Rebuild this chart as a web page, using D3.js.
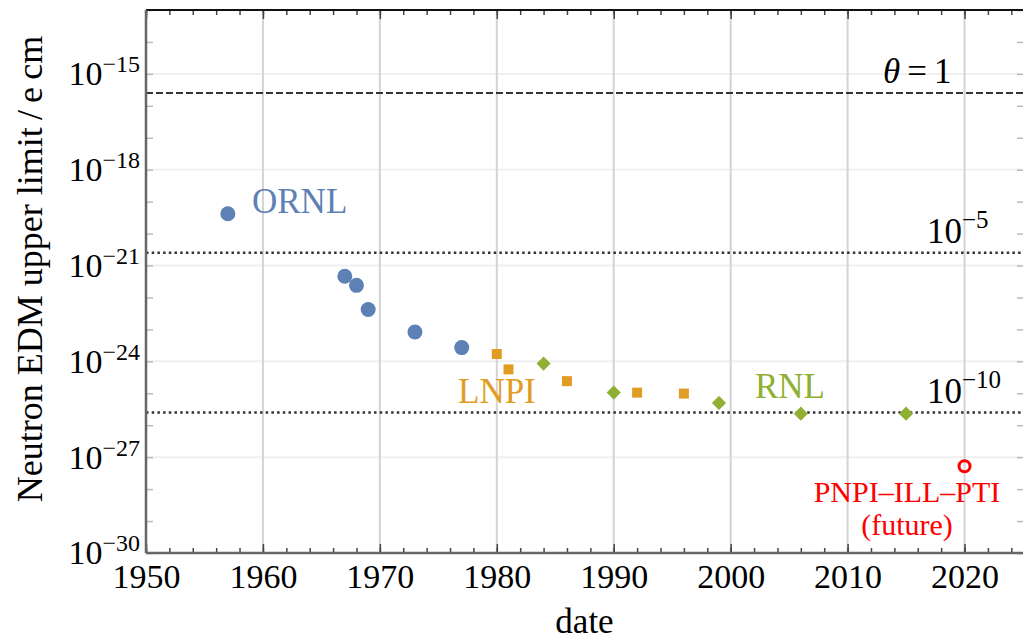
<!DOCTYPE html>
<html>
<head>
<meta charset="utf-8">
<script src="https://cdn.jsdelivr.net/npm/d3@7"></script>
<style>
    body { margin: 0; background: #fff; }
    svg { display: block; font-family: "Liberation Serif", "Times New Roman", serif; }
</style>
</head>
<body>
<div id="chart"></div>
<script>
const WIDTH = 1023, HEIGHT = 641;
const PLOT = { left: 146, right: 1023, top: 10, bottom: 553 };

const ornlYears = [1957, 1967, 1968, 1969, 1973, 1977];
const ornlLimits = [4.2e-20, 4.6e-22, 2.4e-22, 4.2e-23, 8.3e-24, 2.7e-24];
const lnpiYears = [1980, 1981, 1986, 1992, 1996];
const lnpiLimits = [1.7e-24, 5.6e-25, 2.4e-25, 1.05e-25, 9.8e-26];
const rnlYears = [1984, 1990, 1999, 2006, 2015];
const rnlLimits = [8.5e-25, 1.05e-25, 5.0e-26, 2.3e-26, 2.3e-26];
const futureYears = [2020];
const futureLimits = [5.2e-28];

// Reference levels for theta = 1, 1e-5, 1e-10.
const refLimits = [2.5e-16, 2.5e-21, 2.5e-26];
const refBases = ["θ", "10", "10"];
const refExponents = ["", "−5", "−10"];

const xTickYears = [1950, 1960, 1970, 1980, 1990, 2000, 2010, 2020];
const yTickExponents = [-15, -18, -21, -24, -27, -30];

const COLORS = { ornl: "#5e81b5", lnpi: "#e19c24", rnl: "#8fb032", future: "#ff0000" };

const zip = (xs, ys) => xs.map((d, i) => ({ year: d, limit: ys[i] }));

const svg = d3.select("#chart")
    .append("svg")
    .attr("width", WIDTH)
    .attr("height", HEIGHT);

const x = d3.scaleLinear().domain([1950, 2025]).range([PLOT.left, PLOT.right]);
const y = d3.scaleLog().domain([1e-13, 1e-30]).range([PLOT.top, PLOT.bottom]);

const minorYears = d3.range(1950, 2026, 2);
const decades = d3.range(-13, -31, -1).map(e => Math.pow(10, e));
const majorLimits = yTickExponents.map(e => Math.pow(10, e));

// Grid: light vertical lines at decades, very faint horizontal ones at labelled powers.
svg.append("g")
    .selectAll("line")
    .data(majorLimits.slice(0, -1))
    .join("line")
    .attr("x1", PLOT.left).attr("x2", PLOT.right)
    .attr("y1", d => y(d)).attr("y2", d => y(d))
    .attr("stroke", "#f0f0f0")
    .attr("stroke-width", 2);

svg.append("g")
    .selectAll("line")
    .data(xTickYears.slice(1))
    .join("line")
    .attr("x1", d => x(d)).attr("x2", d => x(d))
    .attr("y1", PLOT.top).attr("y2", PLOT.bottom)
    .attr("stroke", "#d3d3d3")
    .attr("stroke-width", 2);

// Reference lines.
svg.append("g")
    .selectAll("line")
    .data(refLimits)
    .join("line")
    .attr("x1", PLOT.left).attr("x2", PLOT.right)
    .attr("y1", d => y(d)).attr("y2", d => y(d))
    .attr("stroke", "#333")
    .attr("stroke-width", (d, i) => i === 0 ? 2 : 2.5)
    .attr("stroke-dasharray", (d, i) => i === 0 ? "7,3" : "2.5,3.2");

const refText = svg.append("g")
    .style("font-size", "35px")
    .attr("fill", "#000")
    .selectAll("text")
    .data(refLimits)
    .join("text")
    .attr("x", (d, i) => i === 0 ? 883 : 927)
    .attr("y", d => y(d) - 10);

refText.each(function (d, i) {
    const t = d3.select(this);
    if (i === 0) {
        t.append("tspan").style("font-style", "italic").text(refBases[i]);
        t.append("tspan").text("\u2009=\u20091");
    } else {
        t.append("tspan").text(refBases[i]);
        t.append("tspan").attr("dy", -15).style("font-size", "25px").text(refExponents[i]);
    }
});

// Data markers.
svg.append("g")
    .selectAll("circle")
    .data(zip(ornlYears, ornlLimits))
    .join("circle")
    .attr("cx", d => x(d.year))
    .attr("cy", d => y(d.limit))
    .attr("r", 7.5)
    .attr("fill", COLORS.ornl);

svg.append("g")
    .selectAll("rect")
    .data(zip(lnpiYears, lnpiLimits))
    .join("rect")
    .attr("x", d => x(d.year) - 5)
    .attr("y", d => y(d.limit) - 5)
    .attr("width", 10)
    .attr("height", 10)
    .attr("fill", COLORS.lnpi);

svg.append("g")
    .selectAll("rect")
    .data(zip(rnlYears, rnlLimits))
    .join("rect")
    .attr("x", -5)
    .attr("y", -5)
    .attr("width", 10)
    .attr("height", 10)
    .attr("transform", d => `translate(${x(d.year)},${y(d.limit)}) rotate(45)`)
    .attr("fill", COLORS.rnl);

svg.append("g")
    .selectAll("circle")
    .data(zip(futureYears, futureLimits))
    .join("circle")
    .attr("cx", d => x(d.year))
    .attr("cy", d => y(d.limit))
    .attr("r", 5.5)
    .attr("fill", "none")
    .attr("stroke", COLORS.future)
    .attr("stroke-width", 3);

// Group labels.
const labels = svg.append("g").style("font-size", "35px");
labels.append("text").attr("x", 252).attr("y", 213).attr("fill", COLORS.ornl).text("ORNL");
labels.append("text").attr("x", 458).attr("y", 403).attr("fill", COLORS.lnpi).text("LNPI");
labels.append("text").attr("x", 755).attr("y", 398).attr("fill", COLORS.rnl).text("RNL");
labels.append("text")
    .attr("x", 907).attr("y", 502)
    .attr("text-anchor", "middle")
    .style("font-size", "30px")
    .attr("fill", COLORS.future)
    .text("PNPI–ILL–PTI");
labels.append("text")
    .attr("x", 907).attr("y", 535)
    .attr("text-anchor", "middle")
    .style("font-size", "30px")
    .attr("fill", COLORS.future)
    .text("(future)");

// Frame ticks, pointing inward.
const tickGroup = (axis, tx, ty, color) => {
    const g = svg.append("g")
        .attr("transform", `translate(${tx},${ty})`)
        .call(axis);
    g.select(".domain").remove();
    g.selectAll(".tick line").attr("stroke", color).attr("stroke-width", 1.5);
    return g;
};

const bottomMinor = d3.axisTop(x).tickValues(minorYears).tickSize(5).tickFormat("");
const bottomMajor = d3.axisTop(x).tickValues(xTickYears).tickSize(9).tickFormat("");
const topMinor = d3.axisBottom(x).tickValues(minorYears).tickSize(5).tickFormat("");
const topMajor = d3.axisBottom(x).tickValues(xTickYears).tickSize(9).tickFormat("");
tickGroup(bottomMinor, 0, PLOT.bottom, "#444");
tickGroup(bottomMajor, 0, PLOT.bottom, "#444");
tickGroup(topMinor, 0, PLOT.top, "#444");
tickGroup(topMajor, 0, PLOT.top, "#444");
tickGroup(d3.axisRight(y).tickValues(decades).tickSize(7).tickFormat(""), PLOT.left, 0, "#bbb");
tickGroup(d3.axisLeft(y).tickValues(decades).tickSize(6).tickFormat(""), PLOT.right, 0, "#bbb");

// Frame lines.
svg.append("line")
    .attr("x1", PLOT.left).attr("x2", PLOT.right)
    .attr("y1", PLOT.top).attr("y2", PLOT.top)
    .attr("stroke", "#111").attr("stroke-width", 2);
svg.append("line")
    .attr("x1", PLOT.left).attr("x2", PLOT.right)
    .attr("y1", PLOT.bottom).attr("y2", PLOT.bottom)
    .attr("stroke", "#666").attr("stroke-width", 2.5);
svg.append("line")
    .attr("x1", PLOT.left).attr("x2", PLOT.left)
    .attr("y1", PLOT.top).attr("y2", PLOT.bottom)
    .attr("stroke", "#666").attr("stroke-width", 2.5);

// Tick labels.
const xAxis = svg.append("g")
    .attr("transform", `translate(0,${PLOT.bottom})`)
    .call(d3.axisBottom(x).tickValues(xTickYears).tickSize(0).tickPadding(11).tickFormat(d3.format("d")));
xAxis.select(".domain").remove();
xAxis.selectAll("text")
    .style("font-family", "Liberation Serif, serif")
    .style("font-size", "34px")
    .attr("fill", "#000");

const yAxis = svg.append("g")
    .attr("transform", `translate(${PLOT.left},0)`)
    .call(d3.axisLeft(y).tickValues(majorLimits).tickSize(0).tickPadding(6).tickFormat(""));
yAxis.select(".domain").remove();
yAxis.selectAll(".tick text")
    .style("font-family", "Liberation Serif, serif")
    .style("font-size", "34px")
    .attr("fill", "#000")
    .each(function (d, i) {
        const t = d3.select(this);
        t.append("tspan").text("10");
        t.append("tspan")
            .attr("dy", -13)
            .style("font-size", "24px")
            .text("−" + Math.abs(yTickExponents[i]));
    });

// Axis titles.
svg.append("text")
    .attr("x", (PLOT.left + PLOT.right) / 2)
    .attr("y", 633)
    .attr("text-anchor", "middle")
    .style("font-size", "35px")
    .attr("fill", "#000")
    .text("date");

svg.append("text")
    .attr("transform", "translate(42,269) rotate(-90)")
    .attr("text-anchor", "middle")
    .style("font-size", "36px")
    .attr("fill", "#000")
    .text("Neutron EDM upper limit\u2009/\u2009e\u2009cm");
</script>
</body>
</html>
